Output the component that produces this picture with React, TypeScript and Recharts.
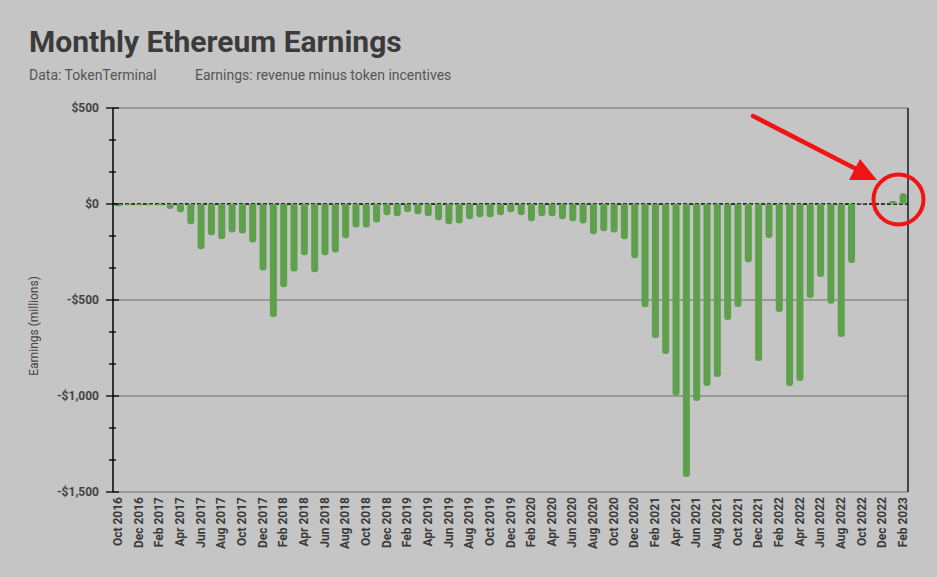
import React from 'react';
import { BarChart, Bar, XAxis, YAxis, CartesianGrid } from 'recharts';

// monthly categories, Oct 2016 .. Feb 2023
const months = [
  'Oct 2016', 'Nov 2016', 'Dec 2016',
  'Jan 2017', 'Feb 2017', 'Mar 2017', 'Apr 2017', 'May 2017', 'Jun 2017',
  'Jul 2017', 'Aug 2017', 'Sep 2017', 'Oct 2017', 'Nov 2017', 'Dec 2017',
  'Jan 2018', 'Feb 2018', 'Mar 2018', 'Apr 2018', 'May 2018', 'Jun 2018',
  'Jul 2018', 'Aug 2018', 'Sep 2018', 'Oct 2018', 'Nov 2018', 'Dec 2018',
  'Jan 2019', 'Feb 2019', 'Mar 2019', 'Apr 2019', 'May 2019', 'Jun 2019',
  'Jul 2019', 'Aug 2019', 'Sep 2019', 'Oct 2019', 'Nov 2019', 'Dec 2019',
  'Jan 2020', 'Feb 2020', 'Mar 2020', 'Apr 2020', 'May 2020', 'Jun 2020',
  'Jul 2020', 'Aug 2020', 'Sep 2020', 'Oct 2020', 'Nov 2020', 'Dec 2020',
  'Jan 2021', 'Feb 2021', 'Mar 2021', 'Apr 2021', 'May 2021', 'Jun 2021',
  'Jul 2021', 'Aug 2021', 'Sep 2021', 'Oct 2021', 'Nov 2021', 'Dec 2021',
  'Jan 2022', 'Feb 2022', 'Mar 2022', 'Apr 2022', 'May 2022', 'Jun 2022',
  'Jul 2022', 'Aug 2022', 'Sep 2022', 'Oct 2022', 'Nov 2022', 'Dec 2022',
  'Jan 2023', 'Feb 2023',
];

// earnings in $ millions, same order as months
const earnings = [
  -12, -7, -7,
  -7, -7, -26, -43, -106, -236,
  -163, -184, -148, -153, -200, -346,
  -589, -434, -351, -267, -356, -267,
  -252, -179, -122, -122, -96, -59,
  -64, -43, -54, -64, -85, -106,
  -101, -80, -69, -69, -59, -43,
  -59, -90, -64, -64, -80, -90,
  -101, -158, -142, -148, -184, -283,
  -538, -698, -781, -997, -1422, -1026,
  -948, -901, -604, -537, -304, -818,
  -177, -563, -948, -922, -490, -380,
  -519, -693, -307, 5, 0, 1,
  16, 56,
];

const yMajorTicks = [-1500, -1000, -500, 0, 500];
const yTicks = [-1500, -1333.33, -1166.67, -1000, -833.33, -666.67, -500, -333.33, -166.67, 0, 166.67, 333.33, 500];
const gridValues = [500, -500, -1000, -1500];

const data = months.map((m, i) => ({ month: m, earnings: earnings[i] }));

const fmtMoney = (v: number) => {
  if (v === 0) return '$0';
  const s = '$' + Math.abs(v).toLocaleString('en-US');
  return v < 0 ? '-' + s : s;
};

const YTick = (props: any) => {
  const { x, y, payload } = props;
  const major = yMajorTicks.includes(payload.value);
  return (
    <g>
      <line
        x1={major ? x - 7 : x - 4}
        x2={major ? x + 6 : x + 3}
        y1={y}
        y2={y}
        stroke="#000"
        strokeWidth={1.3}
      />
      {major && (
        <text x={x - 14} y={y} dy={4} textAnchor="end" fill="#444" fontSize={12} fontWeight="bold" fontFamily="Roboto">
          {fmtMoney(payload.value)}
        </text>
      )}
    </g>
  );
};

const XTick = (props: any) => {
  const { x, y, payload } = props;
  const ty = y + 5;
  return (
    <text
      x={x}
      y={ty}
      transform={`rotate(-90, ${x}, ${ty})`}
      textAnchor="end"
      dominantBaseline="central"
      fill="#3a3a3a"
      fontSize={12}
      fontWeight="bold"
      fontFamily="Roboto"
    >
      {payload.value}
    </text>
  );
};

export default function App() {
  return (
    <div
      style={{
        position: 'fixed',
        left: 0,
        top: 0,
        width: 937,
        height: 577,
        background: '#c5c5c5',
        fontFamily: 'Roboto',
      }}
    >
      <BarChart
        width={937}
        height={577}
        data={data}
        margin={{ top: 108, right: 28, bottom: 5, left: 53 }}
        barCategoryGap={0}
      >
        <CartesianGrid vertical={false} horizontalValues={gridValues} stroke="#8a8a8a" strokeWidth={1.3} />
        <CartesianGrid vertical={false} horizontalValues={[0]} stroke="#000" strokeWidth={1.3} strokeDasharray="4 2" />
        <XAxis
          dataKey="month"
          interval={1}
          axisLine={false}
          tickLine={false}
          tickSize={0}
          tickMargin={0}
          height={80}
          tick={<XTick />}
        />
        <YAxis
          domain={[-1500, 500]}
          ticks={yTicks}
          interval={0}
          width={60}
          tickSize={0}
          tickMargin={0}
          tickLine={false}
          axisLine={{ stroke: '#000', strokeWidth: 1.5 }}
          tick={<YTick />}
        />
        <YAxis
          yAxisId="right"
          orientation="right"
          domain={[0, 1]}
          width={1}
          tick={false}
          tickLine={false}
          axisLine={{ stroke: '#000', strokeWidth: 1.3 }}
        />
        <Bar
          dataKey="earnings"
          fill="#5fa04d"
          barSize={7}
          radius={[3, 3, 0, 0]}
          isAnimationActive={false}
        />
      </BarChart>
      <svg
        width={937}
        height={577}
        style={{ position: 'absolute', left: 0, top: 0, pointerEvents: 'none' }}
      >
        <text x={29} y={52} fontSize={30} fontWeight="bold" fill="#3b3b3b" fontFamily="Roboto">
          Monthly Ethereum Earnings
        </text>
        <text x={29} y={80} fontSize={14} fill="#555" fontFamily="Roboto">
          Data: TokenTerminal
        </text>
        <text x={195} y={80} fontSize={14} fill="#555" fontFamily="Roboto">
          Earnings: revenue minus token incentives
        </text>
        <text
          x={34}
          y={326}
          transform="rotate(-90, 34, 326)"
          textAnchor="middle"
          dominantBaseline="central"
          fontSize={12}
          fill="#444"
          fontFamily="Roboto"
        >
          Earnings (millions)
        </text>
        <line x1={753} y1={116} x2={860} y2={171} stroke="#f01414" strokeWidth={4.5} strokeLinecap="round" />
        <polygon points="877,180 860,159 849,180" fill="#f01414" />
        <circle cx={898.5} cy={199.5} r={25} fill="none" stroke="#f01414" strokeWidth={4} />
      </svg>
    </div>
  );
}
